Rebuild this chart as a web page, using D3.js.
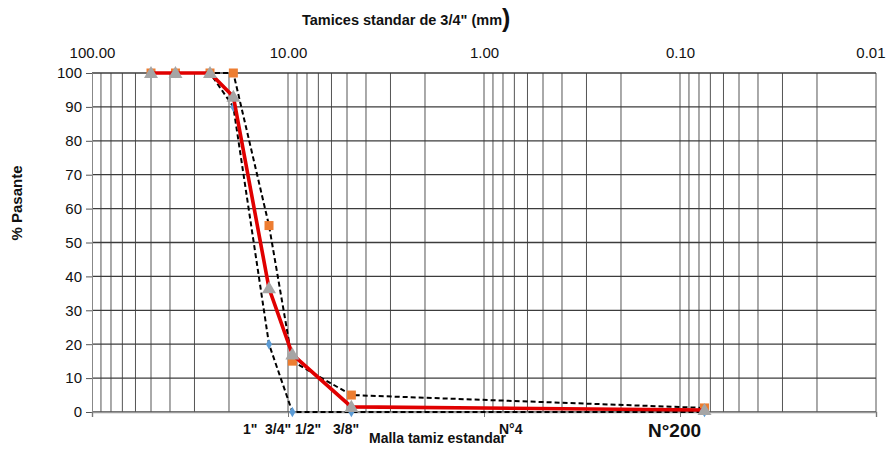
<!DOCTYPE html>
<html>
<head>
<meta charset="utf-8">
<script src="https://cdn.jsdelivr.net/npm/d3@7"></script>
<style>
  body { margin: 0; background: #fff; }
  text { font-family: "Liberation Sans", Arial, sans-serif; }
</style>
</head>
<body>
<svg width="887" height="450"></svg>
<script>
// sieve openings (mm) and % passing
var sizes = [50, 37.5, 25, 19, 12.5, 9.5, 4.75, 0.075];
var lower = [100, 100, 100, 90, 20, 0, 0, 0];      // blue diamonds
var upper = [100, 100, 100, 100, 55, 15, 5, 1.2];  // orange squares
var curve = [100, 100, 100, 93, 36.5, 17, 1.5, 0.6]; // grey triangles, red line

var topTicks = [100, 10, 1, 0.1, 0.01];
var yTicks = d3.range(0, 101, 10);
var meshLabels = ['1"', '3/4"', '1/2"', '3/8"', 'N°4'];

var margin = {top: 73, right: 11, bottom: 38, left: 92};
var width = 887 - margin.left - margin.right;
var height = 450 - margin.top - margin.bottom;

var svg = d3.select("svg");
var g = svg.append("g")
    .attr("transform", "translate(" + margin.left + "," + margin.top + ")");

// log scale, reversed (big sizes on the left)
var x = d3.scaleLog().domain([100, 0.01]).range([0, width]);
var y = d3.scaleLinear().domain([0, 100]).range([height, 0]);

// minor vertical grid: 1..9 in every decade
var grid = [];
[10, 1, 0.1, 0.01].forEach(function(dec) {
  for (var k = 1; k < 10; k++) grid.push(dec * k);
});
g.selectAll(".vgrid")
    .data(grid)
  .enter().append("line")
    .attr("x1", function(d) { return x(d); })
    .attr("x2", function(d) { return x(d); })
    .attr("y1", 0)
    .attr("y2", height)
    .attr("stroke", "#555")
    .attr("stroke-width", 1);

g.selectAll(".hgrid")
    .data(yTicks)
  .enter().append("line")
    .attr("x1", 0)
    .attr("x2", width)
    .attr("y1", function(d) { return y(d); })
    .attr("y2", function(d) { return y(d); })
    .attr("stroke", "#3c3c3c")
    .attr("stroke-width", 1.3);

// axes
var yAxis = g.append("g")
    .call(d3.axisLeft(y).tickValues(yTicks).tickSize(6).tickPadding(4));
yAxis.select(".domain").attr("stroke", "#888");
yAxis.selectAll("line").attr("stroke", "#555");
yAxis.selectAll("text").attr("font-size", 15).attr("fill", "#111")
    .style("font-family", "Liberation Sans, Arial, sans-serif");

var xTop = g.append("g")
    .call(d3.axisTop(x).tickValues(topTicks).tickSize(0).tickPadding(15)
      .tickFormat(d3.format(".2f")));
xTop.select(".domain").remove();
xTop.selectAll("text").attr("font-size", 15).attr("fill", "#111")
    .style("font-family", "Liberation Sans, Arial, sans-serif");
// keep the last label inside the picture
xTop.selectAll("text").filter(function(d) { return d === 0.01; })
    .attr("text-anchor", "end").attr("dx", 9);

var xBottom = g.append("g")
    .attr("transform", "translate(0," + height + ")")
    .call(d3.axisBottom(x).tickValues(topTicks).tickSize(5).tickFormat(""));
xBottom.select(".domain").attr("stroke", "#999").attr("stroke-width", 1.5);
xBottom.selectAll("line").attr("stroke", "#777");

// lines
var line = function(vals) {
  return d3.line()
    .x(function(d, i) { return x(sizes[i]); })
    .y(function(d) { return y(d); })(vals);
};

g.append("path").attr("d", line(lower))
    .attr("fill", "none").attr("stroke", "#000")
    .attr("stroke-width", 2).attr("stroke-dasharray", "5,3");
g.append("path").attr("d", line(upper))
    .attr("fill", "none").attr("stroke", "#000")
    .attr("stroke-width", 2).attr("stroke-dasharray", "5,3");

g.selectAll(".dia")
    .data(lower)
  .enter().append("path")
    .attr("d", d3.symbol().type(d3.symbolDiamond).size(32))
    .attr("transform", function(d, i) { return "translate(" + x(sizes[i]) + "," + y(d) + ")"; })
    .attr("fill", "#5b9bd5");

g.selectAll(".sq")
    .data(upper)
  .enter().append("rect")
    .attr("x", function(d, i) { return x(sizes[i]) - 4.5; })
    .attr("y", function(d) { return y(d) - 4.5; })
    .attr("width", 9).attr("height", 9)
    .attr("fill", "#ed7d31");

g.append("path").attr("d", line(curve))
    .attr("fill", "none").attr("stroke", "#e00000")
    .attr("stroke-width", 3.6);

g.selectAll(".tri")
    .data(curve)
  .enter().append("path")
    .attr("d", d3.symbol().type(d3.symbolTriangle).size(85))
    .attr("transform", function(d, i) { return "translate(" + x(sizes[i]) + "," + (y(d) + 1) + ")"; })
    .attr("fill", "#a5a5a5");

// titles
var title = svg.append("text")
    .attr("x", 302).attr("y", 25)
    .attr("font-size", 14.5).attr("font-weight", "bold").attr("fill", "#111");
title.append("tspan").text('Tamices standar de 3/4" (mm');
title.append("tspan").attr("font-size", 25).attr("dy", 2).text(")");

svg.append("text")
    .attr("transform", "translate(22,203) rotate(-90)")
    .attr("text-anchor", "middle")
    .attr("font-size", 15).attr("font-weight", "bold").attr("fill", "#111")
    .text("% Pasante");

// mesh labels under the axis
var meshX = [243, 265, 295, 333, 499];
svg.selectAll(".mesh")
    .data(meshLabels)
  .enter().append("text")
    .attr("x", function(d, i) { return meshX[i]; })
    .attr("y", 434)
    .attr("font-size", 14).attr("font-weight", "bold").attr("fill", "#111")
    .text(function(d) { return d; });

svg.append("text")
    .attr("x", 648).attr("y", 437)
    .attr("font-size", 19).attr("font-weight", "bold").attr("fill", "#111")
    .text("N°200");

svg.append("text")
    .attr("x", 369).attr("y", 443)
    .attr("font-size", 14).attr("font-weight", "bold").attr("fill", "#111")
    .text("Malla tamiz estandar");
</script>
</body>
</html>
